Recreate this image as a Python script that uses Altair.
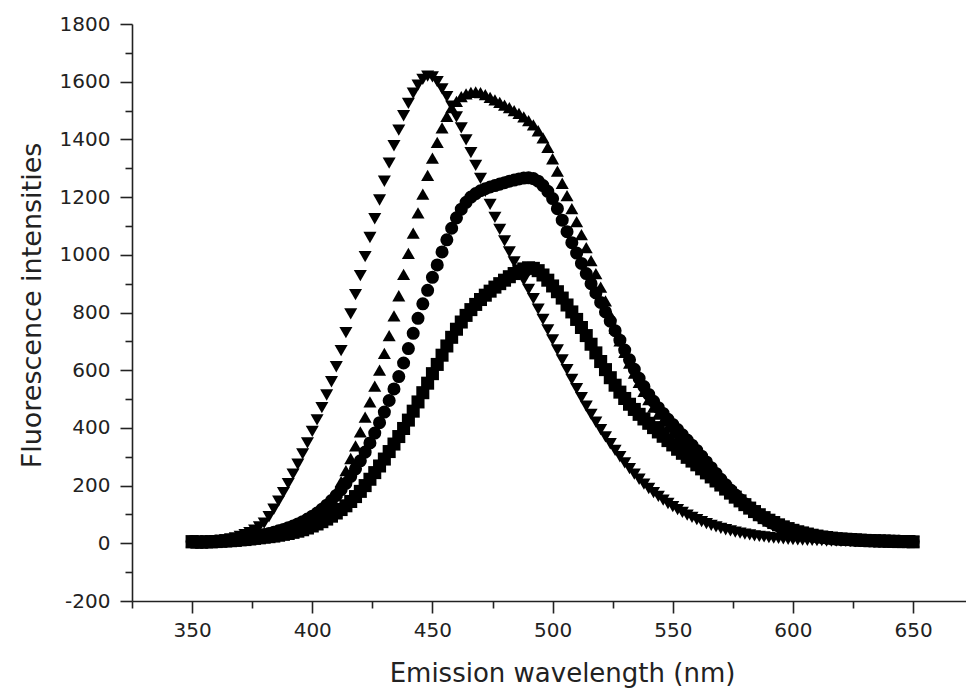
import altair as alt
import pandas as pd

wavelength = list(range(350, 651, 2))

down_tri = [
    8, 7, 6, 6, 7, 8, 10, 12, 15, 19,
    24, 30, 37, 46, 57, 70, 92, 118, 146, 176,
    207, 240, 274, 310, 348, 388, 428, 470, 514, 560,
    612, 668, 730, 795, 862, 928, 994, 1060, 1125, 1190,
    1255, 1318, 1378, 1432, 1482, 1525, 1560, 1588, 1608, 1619,
    1617, 1600, 1575, 1548, 1515, 1478, 1440, 1398, 1354, 1310,
    1265, 1220, 1175, 1130, 1088, 1048, 1010, 975, 945, 912,
    880, 848, 812, 776, 740, 705, 670, 636, 602, 568,
    536, 505, 475, 447, 420, 394, 369, 345, 322, 300,
    279, 259, 240, 222, 205, 190, 176, 163, 150, 138,
    127, 117, 107, 98, 90, 82, 75, 68, 62, 57,
    52, 47, 43, 39, 35, 32, 29, 26, 24, 22,
    20, 18, 17, 15, 14, 13, 12, 11, 10, 10,
    9, 9, 8, 8, 8, 7, 7, 7, 6, 6,
    6, 6, 5, 5, 5, 5, 5, 4, 4, 4,
    4,
]

up_tri = [
    6, 5, 5, 5, 6, 7, 8, 9, 10, 11,
    12, 13, 15, 17, 19, 22, 25, 28, 31, 35,
    39, 44, 49, 55, 62, 70, 82, 97, 118, 145,
    178, 214, 252, 294, 338, 386, 437, 490, 545, 600,
    658, 720, 788, 858, 932, 1005, 1075, 1145, 1210, 1275,
    1335, 1390, 1440, 1480, 1510, 1532, 1548, 1558, 1563, 1565,
    1562, 1555, 1546, 1537, 1528, 1519, 1510, 1500, 1490, 1478,
    1465, 1450, 1430, 1405, 1372, 1333, 1290, 1248, 1205, 1160,
    1115, 1070, 1025, 980, 935, 888, 840, 792, 745, 702,
    662, 625, 590, 558, 527, 498, 472, 448, 425, 403,
    382, 362, 343, 324, 306, 289, 272, 255, 239, 223,
    208, 193, 179, 165, 152, 139, 127, 115, 104, 94,
    84, 75, 67, 59, 52, 46, 41, 36, 32, 28,
    25, 22, 20, 18, 16, 14, 13, 12, 11, 10,
    10, 9, 9, 8, 8, 8, 7, 7, 7, 6,
    6,
]

circle = [
    6, 5, 5, 5, 6, 7, 8, 9, 11, 13,
    15, 17, 20, 23, 26, 30, 34, 38, 43, 48,
    54, 60, 67, 75, 84, 94, 105, 118, 132, 148,
    166, 186, 208, 232, 258, 286, 316, 348, 382, 418,
    455, 495, 535, 578, 625, 675, 728, 780, 830, 877,
    922, 965, 1010, 1052, 1092, 1128, 1158, 1182, 1200, 1212,
    1222, 1229, 1235, 1240, 1245, 1250, 1255, 1259, 1263, 1266,
    1267, 1264, 1255, 1240, 1220, 1195, 1160, 1120, 1080, 1042,
    1006, 970, 935, 900, 868, 835, 802, 770, 737, 704,
    670, 636, 603, 572, 543, 516, 492, 470, 450, 430,
    412, 394, 376, 358, 340, 322, 302, 282, 262, 242,
    222, 203, 185, 168, 152, 137, 123, 110, 98, 87,
    77, 68, 60, 53, 47, 42, 37, 33, 29, 26,
    23, 21, 19, 17, 15, 14, 13, 12, 11, 10,
    10, 9, 9, 8, 8, 7, 7, 7, 6, 6,
    6,
]

square = [
    5, 4, 4, 5, 5, 6, 7, 8, 9, 10,
    12, 13, 15, 17, 19, 21, 23, 25, 28, 31,
    34, 38, 42, 47, 53, 60, 67, 75, 84, 94,
    105, 117, 130, 145, 162, 180, 200, 222, 245, 268,
    292, 318, 344, 370, 398, 427, 458, 490, 522, 555,
    588, 620, 652, 684, 714, 742, 767, 790, 810, 828,
    845, 860, 874, 888, 900, 912, 924, 935, 944, 951,
    955, 953, 945, 930, 912, 892, 872, 850, 826, 802,
    776, 748, 720, 690, 660, 630, 602, 574, 548, 524,
    502, 482, 464, 447, 431, 416, 401, 386, 371, 356,
    341, 326, 312, 298, 285, 272, 258, 244, 230, 216,
    202, 188, 174, 160, 147, 134, 122, 110, 99, 89,
    80, 72, 64, 57, 51, 45, 40, 36, 32, 28,
    25, 22, 20, 18, 16, 15, 14, 13, 12, 11,
    10, 9, 9, 8, 8, 7, 7, 6, 6, 6,
    5,
]

series_names = ["down", "up", "circle", "square"]
series_values = [down_tri, up_tri, circle, square]
shapes = ["triangle-down", "triangle-up", "circle", "square"]
sizes = [170, 170, 110, 100]

x_ticks = [325, 350, 375, 400, 425, 450, 475, 500, 525, 550, 575, 600, 625, 650]
y_ticks = list(range(-200, 1801, 100))

rows = []
for name, vals in zip(series_names, series_values):
    for w, v in zip(wavelength, vals):
        rows.append({"wavelength": w, "intensity": v, "series": name})
df = pd.DataFrame(rows)

FONT = "DejaVu Sans"
TXT = "#222222"

chart = (
    alt.Chart(df)
    .mark_point(filled=True, opacity=1, color="black", strokeWidth=0, clip=False)
    .encode(
        x=alt.X(
            "wavelength:Q",
            scale=alt.Scale(domain=[325, 672], nice=False, zero=False),
            axis=alt.Axis(
                values=x_ticks,
                labelExpr="datum.value % 50 === 0 ? '' + datum.value : ''",
                tickSize={"condition": {"test": "datum.value % 50 === 0", "value": 12}, "value": 7},
                labelOverlap=False,
                grid=False,
                title="Emission wavelength (nm)",
                titleFont=FONT,
                titleFontSize=26,
                titleFontWeight="normal",
                titleColor=TXT,
                titleBaseline="alphabetic",
                titleAnchor="start",
                titleAlign="center",
                titleX=430,
                titleY=80,
                labelFont=FONT,
                labelFontSize=20,
                labelColor=TXT,
                labelPadding=7,
                domainColor="#222222",
                domainWidth=1.6,
                tickColor="#222222",
                tickWidth=1.6,
            ),
        ),
        y=alt.Y(
            "intensity:Q",
            scale=alt.Scale(domain=[-200, 1800], nice=False, zero=False),
            axis=alt.Axis(
                values=y_ticks,
                labelExpr="datum.value % 200 === 0 ? '' + datum.value : ''",
                tickSize={"condition": {"test": "datum.value % 200 === 0", "value": 12}, "value": 7},
                labelOverlap=False,
                grid=False,
                title="Fluorescence intensities",
                titleFont=FONT,
                titleFontSize=27,
                titleFontWeight="normal",
                titleColor=TXT,
                titleBaseline="alphabetic",
                titleAngle=270,
                titleAlign="center",
                titleX=-92,
                titleY=281,
                labelFont=FONT,
                labelFontSize=20,
                labelColor=TXT,
                labelPadding=10,
                domainColor="#222222",
                domainWidth=1.6,
                tickColor="#222222",
                tickWidth=1.6,
            ),
        ),
        shape=alt.Shape(
            "series:N",
            scale=alt.Scale(domain=series_names, range=shapes),
            legend=None,
        ),
        size=alt.Size(
            "series:N",
            scale=alt.Scale(domain=series_names, range=sizes),
            legend=None,
        ),
    )
    .properties(
        width=834,
        height=577,
        autosize=alt.AutoSizeParams(type="none"),
        padding={"left": 132, "top": 24, "right": 0, "bottom": 88},
        background="white",
    )
    .configure_view(stroke=None)
)

chart.save("out.html", embed_options={"renderer": "svg", "actions": False})
